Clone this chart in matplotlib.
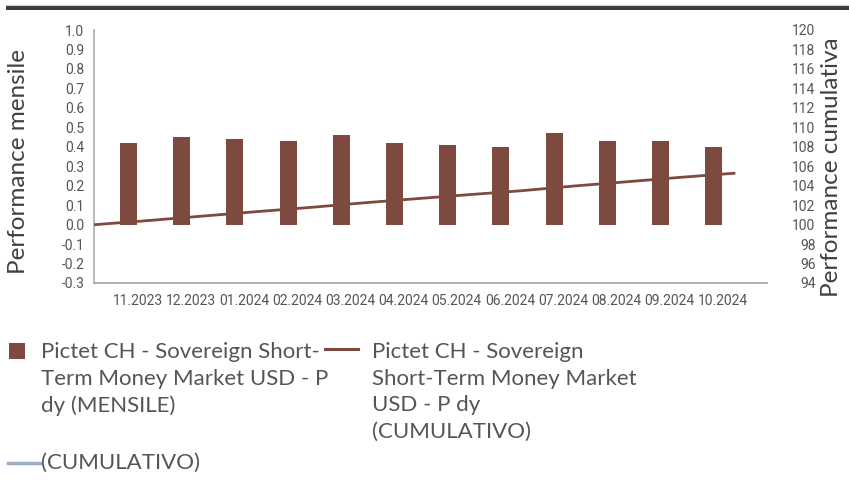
import numpy as np
import matplotlib
matplotlib.use('Agg')
import matplotlib.pyplot as plt
from matplotlib.transforms import ScaledTranslation
from matplotlib.patches import Rectangle
from matplotlib.lines import Line2D

# monthly performance (%) and cumulative index
months = ['11.2023', '12.2023', '01.2024', '02.2024', '03.2024', '04.2024',
          '05.2024', '06.2024', '07.2024', '08.2024', '09.2024', '10.2024']
monthly = [0.42, 0.45, 0.44, 0.43, 0.46, 0.42, 0.41, 0.40, 0.47, 0.43, 0.43, 0.40]
cumulative = [100.0, 100.42, 100.87, 101.32, 101.75, 102.22, 102.65,
              103.07, 103.48, 103.97, 104.41, 104.86, 105.28]
left_ticks = [-0.3, -0.2, -0.1, 0.0, 0.1, 0.2, 0.3, 0.4, 0.5, 0.6, 0.7, 0.8, 0.9, 1.0]
right_ticks = [94, 96, 98, 100, 102, 104, 106, 108, 110, 112, 114, 116, 118, 120]

legend_bar = 'Pictet CH - Sovereign Short-\nTerm Money Market USD - P\ndy (MENSILE)'
legend_line = 'Pictet CH - Sovereign\nShort-Term Money Market\nUSD - P dy\n(CUMULATIVO)'
legend_bench = '(CUMULATIVO)'

brown = '#7e4a3f'
grey_txt = '#555555'
tick_font = ['Roboto', 'DejaVu Sans']
text_font = ['Lato', 'DejaVu Sans']

W, H = 849, 480
fig = plt.figure(figsize=(W / 100, H / 100), dpi=100)

# dark rule at the top
fig.add_artist(Rectangle((6 / W, 1 - 10 / H), 1, 4 / H, transform=fig.transFigure,
                         color='#3b3b3b', lw=0))
fig.add_artist(Line2D([6 / W, 1], [1 - 5 / H, 1 - 5 / H], transform=fig.transFigure,
                      color='#d0d0d0', lw=0.8))

ax = fig.add_axes([94 / W, 1 - 283 / H, 673 / W, 253 / H])
x = np.arange(len(months))
ax.bar(x, monthly, width=0.32, color=brown, zorder=2)
ax.set_xlim(-0.648, 12.0)
ax.set_ylim(-0.3, 1.0)
ax.set_yticks(left_ticks)
ax.set_yticklabels([f'{v:.1f}' for v in left_ticks])
ax.set_xticks(x)
ax.set_xticklabels(months)

for s in ['top', 'right']:
    ax.spines[s].set_visible(False)
ax.spines['left'].set_color('#b4b4b4')
ax.spines['left'].set_linewidth(1.3)
ax.spines['bottom'].set_color('#a8a8a8')
ax.spines['bottom'].set_linewidth(1.3)
ax.tick_params(axis='both', length=0, colors=grey_txt)
ax.tick_params(axis='y', pad=7)
ax.tick_params(axis='x', pad=8)
for lbl in ax.get_xticklabels():
    lbl.set_fontfamily(tick_font)
    lbl.set_fontsize(10)
    lbl.set_transform(lbl.get_transform() + ScaledTranslation(9 / 100, 0, fig.dpi_scale_trans))
for lbl in ax.get_yticklabels():
    lbl.set_fontfamily(tick_font)
    lbl.set_fontsize(10)

ax2 = ax.twinx()
ax2.plot(np.arange(len(cumulative)) - 0.62, cumulative, color=brown, lw=2)
ax2.set_ylim(94, 120)
ax2.set_yticks(right_ticks)
ax2.set_yticklabels([str(v) for v in right_ticks])
for s in ['top', 'right', 'left', 'bottom']:
    ax2.spines[s].set_visible(False)
ax2.tick_params(axis='y', length=0, colors=grey_txt, pad=35)
for lbl in ax2.get_yticklabels():
    lbl.set_fontfamily(tick_font)
    lbl.set_fontsize(10)
    lbl.set_horizontalalignment('right')

fig.text(19 / W, 1 - 162 / H, 'Performance mensile', rotation=90, ha='center', va='center',
         fontsize=17.5, color='#404040', family=text_font)
fig.text(832 / W, 1 - 167 / H, 'Performance cumulativa', rotation=90, ha='center', va='center',
         fontsize=17.5, color='#404040', family=text_font)

# legend
fig.add_artist(Rectangle((9 / W, 1 - 359 / H), 16 / W, 16 / H, transform=fig.transFigure,
                         color=brown, lw=0))
fig.text(41 / W, 1 - 342 / H, legend_bar, ha='left', va='top', fontsize=16,
         color=grey_txt, family=text_font, linespacing=1.42)
fig.add_artist(Line2D([325 / W, 358 / W], [1 - 349 / H, 1 - 349 / H], transform=fig.transFigure,
                      color=brown, lw=2.2))
fig.text(372 / W, 1 - 342 / H, legend_line, ha='left', va='top', fontsize=16,
         color=grey_txt, family=text_font, linespacing=1.42)
fig.add_artist(Line2D([8 / W, 40 / W], [1 - 463 / H, 1 - 463 / H], transform=fig.transFigure,
                      color='#9bb0c8', lw=2.5))
fig.text(41 / W, 1 - 453 / H, legend_bench, ha='left', va='top', fontsize=16,
         color=grey_txt, family=text_font)

fig.savefig('out.png', dpi=100)
